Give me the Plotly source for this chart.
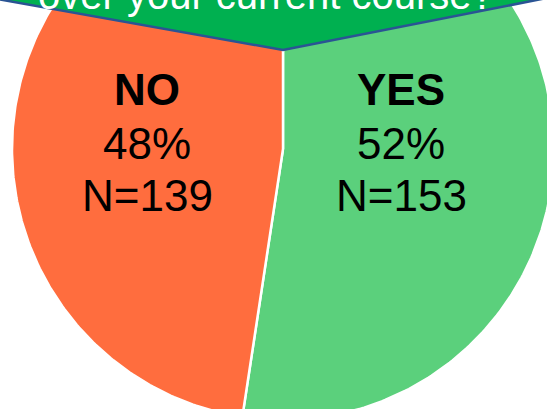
import numpy as np
import plotly.graph_objects as go

# survey answers (clockwise from 12 o'clock)
answers = ["YES", "NO"]
counts = [153, 139]
slice_colors = ["#5BD07C", "#FF6D3E"]
question_tail = "over your current course?"

total = sum(counts)
shares = [c / total for c in counts]
pcts = [round(s * 100) for s in shares]

# pie geometry in pixel units (the chart is cropped, so the pie runs off the canvas)
CX, CY, R = 283, 149, 271
W, H = 547, 409

fig = go.Figure()

start = 0.0
for name, share, color in zip(answers, shares, slice_colors):
    theta = np.linspace(start, start + share, 240) * 2 * np.pi
    xs = np.concatenate([[CX], CX + R * np.sin(theta), [CX]])
    ys = np.concatenate([[CY], CY - R * np.cos(theta), [CY]])
    fig.add_trace(go.Scatter(
        x=xs, y=ys,
        mode="lines",
        fill="toself",
        fillcolor=color,
        line=dict(color="white", width=2.5),
        name=name,
        hoverinfo="skip",
    ))
    start += share

# slice labels
label_x = {"YES": 401, "NO": 147}
row_y = [89, 143, 195]
font = "Liberation Sans, Arial, sans-serif"
for name, n, pct in zip(answers, counts, pcts):
    lines = [f"<b>{name}</b>", f"{pct}%", f"N={n}"]
    for txt, y in zip(lines, row_y):
        fig.add_annotation(
            x=label_x[name], y=y, text=txt, showarrow=False,
            xanchor="center", yanchor="middle",
            font=dict(family=font, size=44, color="black"),
        )

# green question banner at the top (pointing down into the pie)
fig.add_shape(
    type="path",
    path="M -20,-80 L -20,-4 L 283,50 L 567,-6 L 567,-80 Z",
    fillcolor="#00B050",
    line=dict(color="#2A5494", width=2.5),
    layer="above",
)
fig.add_annotation(
    x=266, y=19, text=question_tail, showarrow=False,
    xanchor="center", yanchor="bottom",
    font=dict(family=font, size=40, color="white"),
)

fig.update_layout(
    width=W, height=H,
    margin=dict(l=0, r=0, t=0, b=0),
    paper_bgcolor="white",
    plot_bgcolor="white",
    showlegend=False,
    xaxis=dict(range=[0, W], visible=False, fixedrange=True),
    yaxis=dict(range=[H, 0], visible=False, fixedrange=True),
)

# drop the default page margin so the cropped chart sits flush with the window
fig.write_html(
    "out.html",
    config={"displayModeBar": False},
    post_script="document.body.style.margin = '0';",
)
